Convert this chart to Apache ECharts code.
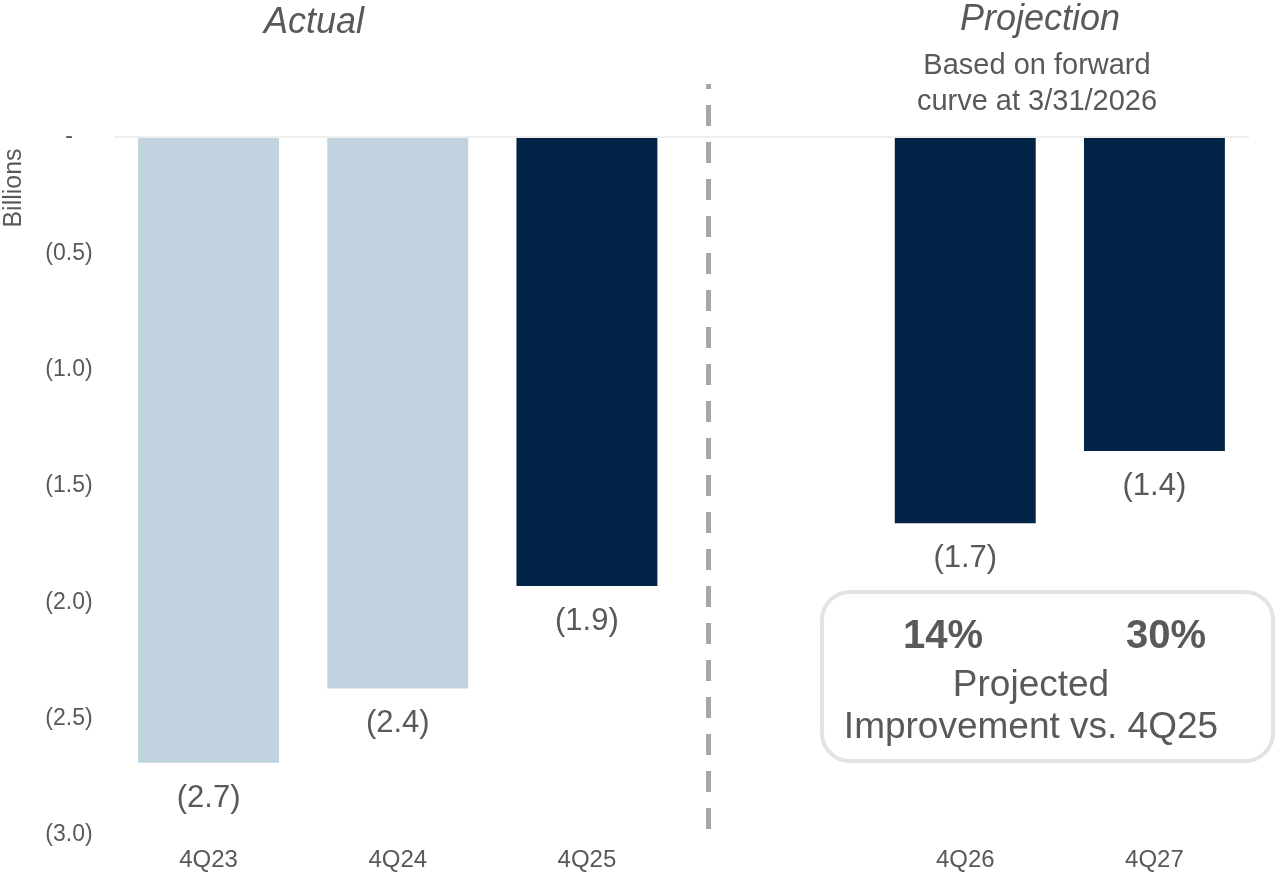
<!DOCTYPE html>
<html>
<head>
<meta charset="utf-8">
<script src="https://cdn.jsdelivr.net/npm/echarts@6/dist/echarts.min.js"></script>
<style>
html,body{margin:0;padding:0;background:#fff;}
#chart{width:1281px;height:875px;}
</style>
</head>
<body>
<div id="chart"></div>
<script>
// ---- data ----
const categories = ['4Q23', '4Q24', '4Q25', '', '4Q26', '4Q27'];
const values = [-2.69, -2.37, -1.93, null, -1.66, -1.35];
const yMin = -3.0;
const yMax = 0;
const yStep = 0.5;
const dividerX = [2.643, 2.643];        // between 4Q25 and the projection columns
const dividerY = [0.228, -2.99];
const baseIndex = 2;                      // 4Q25
const projIndices = [4, 5];
const panelTitles = ['Actual', 'Projection'];
const subtitleLines = ['Based on forward', 'curve at 3/31/2026'];
const boxLines = ['Projected', 'Improvement vs. 4Q25'];
const axisName = 'Billions';

const TXT = '#595959';
const FONT = '"Liberation Sans", Arial, sans-serif';

const pct = projIndices.map(i => Math.round((1 - values[i] / values[baseIndex]) * 100) + '%');

const chart = echarts.init(document.getElementById('chart'), null, {renderer: 'canvas'});

const option = {
  backgroundColor: '#ffffff',
  animation: false,
  textStyle: {fontFamily: FONT},
  grid: {left: 114, right: 32, top: 137, bottom: 40, containLabel: false},
  xAxis: [
    {
      type: 'category',
      data: categories,
      position: 'bottom',
      axisLine: {show: false},
      axisTick: {show: false},
      axisLabel: {color: TXT, fontSize: 24, fontFamily: FONT, margin: 13, interval: 0}
    },
    {
      type: 'value',
      min: -0.5,
      max: 5.5,
      show: false
    }
  ],
  yAxis: {
    type: 'value',
    min: yMin,
    max: yMax,
    interval: yStep,
    axisLine: {show: false},
    axisTick: {show: false},
    splitLine: {show: false},
    axisLabel: {
      color: TXT,
      fontSize: 23,
      fontFamily: FONT,
      align: 'center',
      margin: 45,
      formatter: v => (Math.abs(v) < 1e-9 ? '-' : '(' + Math.abs(v).toFixed(1) + ')')
    }
  },
  series: [
    {
      type: 'bar',
      data: values,
      barWidth: '74.5%',
      itemStyle: {
        color: p => (p.dataIndex < 2 ? '#c1d3df' : '#002346')
      },
      label: {
        show: true,
        position: 'bottom',
        distance: 20,
        color: TXT,
        fontSize: 31,
        fontFamily: FONT,
        formatter: p => (p.value == null ? '' : '(' + Math.abs(p.value).toFixed(1) + ')')
      },
      markLine: {
        silent: true,
        symbol: 'none',
        label: {show: false},
        lineStyle: {color: '#eeeeee', width: 2, type: 'solid'},
        data: [{yAxis: 0}]
      },
      z: 2
    },
    {
      type: 'line',
      xAxisIndex: 1,
      yAxisIndex: 0,
      data: dividerX.map((x, i) => [x, dividerY[i]]),
      symbol: 'none',
      clip: false,
      silent: true,
      lineStyle: {color: '#a6a6a6', width: 5, type: [21, 16], dashOffset: 16, cap: 'butt'},
      z: 3
    }
  ],
  graphic: [
    {type: 'text', x: 314, y: 23, style: {text: panelTitles[0], font: 'italic 36px ' + FONT, fill: TXT, align: 'center', verticalAlign: 'middle'}},
    {type: 'text', x: 1040, y: 20, style: {text: panelTitles[1], font: 'italic 36px ' + FONT, fill: TXT, align: 'center', verticalAlign: 'middle'}},
    {type: 'text', x: 1037, y: 66, style: {text: subtitleLines[0], font: '29px ' + FONT, fill: TXT, align: 'center', verticalAlign: 'middle'}},
    {type: 'text', x: 1037, y: 102, style: {text: subtitleLines[1], font: '29px ' + FONT, fill: TXT, align: 'center', verticalAlign: 'middle'}},
    {type: 'text', x: 14, y: 188, rotation: Math.PI / 2, style: {text: axisName, font: '25px ' + FONT, fill: TXT, align: 'center', verticalAlign: 'middle'}},
    {type: 'rect', shape: {x: 822, y: 592, width: 451, height: 169, r: 28}, style: {fill: '#ffffff', stroke: '#e3e3e3', lineWidth: 4}, z: 10},
    {type: 'text', x: 943, y: 637, z: 11, style: {text: pct[0], font: 'bold 40px ' + FONT, fill: TXT, align: 'center', verticalAlign: 'middle'}},
    {type: 'text', x: 1166, y: 637, z: 11, style: {text: pct[1], font: 'bold 40px ' + FONT, fill: TXT, align: 'center', verticalAlign: 'middle'}},
    {type: 'text', x: 1031, y: 686, z: 11, style: {text: boxLines[0], font: '37px ' + FONT, fill: TXT, align: 'center', verticalAlign: 'middle'}},
    {type: 'text', x: 1031, y: 728, z: 11, style: {text: boxLines[1], font: '37px ' + FONT, fill: TXT, align: 'center', verticalAlign: 'middle'}}
  ]
};

chart.setOption(option);
</script>
</body>
</html>
